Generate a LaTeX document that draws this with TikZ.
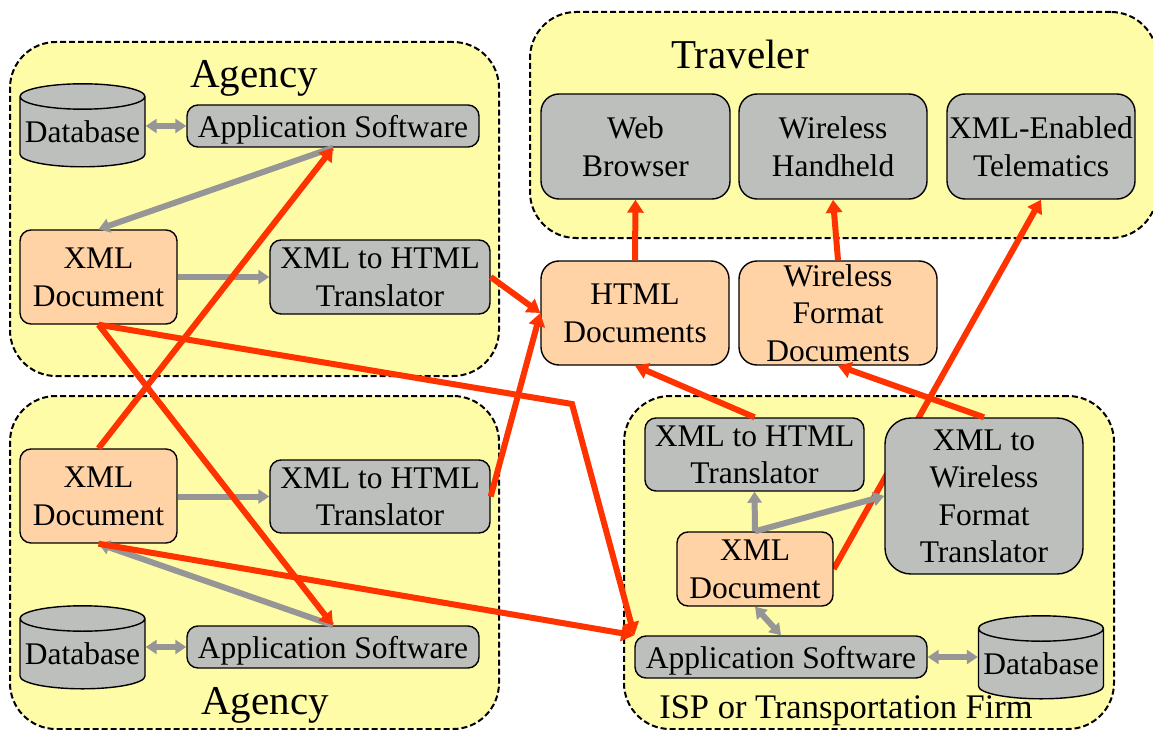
\documentclass[tikz,border=0pt]{standalone}
\usepackage{fontspec}
\setmainfont{Liberation Serif}
\usetikzlibrary{shapes.geometric,arrows.meta}
\definecolor{panelyellow}{HTML}{FFFCA8}
\definecolor{boxgray}{HTML}{BDBFBC}
\definecolor{docpeach}{HTML}{FFD3A6}
\definecolor{linkgray}{HTML}{969696}
\definecolor{linkred}{HTML}{FF3300}
\pgfdeclarelayer{panels}
\pgfdeclarelayer{under}
\pgfsetlayers{panels,under,main}
\begin{document}
\begin{tikzpicture}[
x=1pt,y=-1pt,
graytip/.tip={Triangle[length=11pt,width=14pt]},
redtip/.tip={Triangle[length=13pt,width=16pt]},
panel/.style={
  draw,
  dash pattern=on 6pt off 3pt,
  line width=2pt,
  fill=panelyellow,
  rounded corners=46pt
},
soft/.style={
  draw,
  line width=1.4pt,
  rounded corners=11pt,
  inner sep=0pt,
  align=center,
  text depth=-7pt,
  font=\fontsize{31.5}{37.5}\selectfont
},
tool/.style={soft,fill=boxgray},
doc/.style={soft,fill=docpeach},
roomy/.style={rounded corners=18pt,text depth=-8pt},
appbox/.style={
  tool,
  minimum width=292pt,
  minimum height=42pt,
  text depth=0pt
},
base/.style={
  draw,
  line width=1.4pt,
  cylinder,
  shape border rotate=90,
  aspect=0.22,
  fill=boxgray,
  inner sep=0pt,
  minimum width=125pt,
  minimum height=83pt,
  font=\fontsize{31.5}{37.5}\selectfont
},
title/.style={font=\fontsize{41}{46}\selectfont},
graylink/.style={draw=linkgray,fill=linkgray,line width=6pt,-graytip},
redlink/.style={draw=linkred,fill=linkred,line width=6pt,-redtip}
]
\useasboundingbox (0,0) rectangle (1153,730);

\begin{pgfonlayer}{panels}
\node[panel,minimum width=489pt,minimum height=334pt] at (254.5,209)
  (agency1) {};
\node[panel,minimum width=489pt,minimum height=333pt] at (254.5,562.5)
  (agency2) {};
\node[panel,minimum width=627pt,minimum height=226pt] at (843.5,125)
  (traveler) {};
\node[panel,minimum width=490pt,minimum height=333pt] at (869,562.5)
  (firm) {};
\end{pgfonlayer}

\node[title] at (254,78) (agency1label) {Agency};
\node[title] at (265,705) (agency2label) {Agency};
\node[title] at (740,54) (travelerlabel) {Traveler};
\node[font=\fontsize{34.5}{37.5}\selectfont] at (846,711) (firmlabel) {ISP or Transportation Firm};

\node[base] at (82.5,132)
  (db1) {Database};
\node[appbox] at (333,126)
  (app1) {Application Software};
\node[doc,minimum width=157pt,minimum height=94pt] at (98.5,277)
  (xml1) {XML\\Document};
\node[tool,minimum width=220pt,minimum height=74pt] at (380,277)
  (tr1) {XML to HTML\\Translator};

\node[doc,minimum width=157pt,minimum height=94pt] at (98.5,496)
  (xml2) {XML\\Document};
\node[tool,minimum width=220pt,minimum height=73pt] at (380,496.5)
  (tr2) {XML to HTML\\Translator};
\node[base] at (82.5,654)
  (db2) {Database};
\node[appbox] at (333,647)
  (app2) {Application Software};

\node[tool,roomy,minimum width=189pt,minimum height=105pt] at (635.5,146.5)
  (web) {Web\\Browser};
\node[tool,roomy,minimum width=188pt,minimum height=105pt] at (833,146.5)
  (handheld) {Wireless\\Handheld};
\node[tool,roomy,minimum width=188pt,minimum height=105pt] at (1041,146.5)
  (telematics) {XML-Enabled\\Telematics};
\node[doc,roomy,minimum width=188pt,minimum height=104pt] at (635,313)
  (html) {HTML\\Documents};
\node[doc,roomy,minimum width=198pt,minimum height=104pt] at (838,313)
  (wireless) {Wireless\\Format\\Documents};

\node[tool,minimum width=219pt,minimum height=73pt] at (754.5,454.5)
  (tr3) {XML to HTML\\Translator};
\node[tool,rounded corners=26pt,text depth=-3pt,minimum width=198pt,minimum height=156pt] at (984,496)
  (tr4) {XML to\\Wireless\\Format\\Translator};
\node[doc,text depth=-4pt,minimum width=156pt,minimum height=74pt] at (755,569)
  (xml3) {XML\\Document};
\node[appbox] at (781,657)
  (app3) {Application Software};
\node[base] at (1041,664)
  (db3) {Database};

\draw[graylink,graytip-graytip] (db1.east|-app1) -- (app1.west);
\draw[graylink] (app1.south) -- (xml1.north);
\draw[graylink] (xml1.east|-tr1) -- (tr1);
\draw[graylink] (xml2.east|-tr2) -- (tr2);
\draw[graylink,graytip-graytip] (db2.east|-app2) -- (app2.west);
\draw[graylink] (app2.north) -- (xml2.south);
\draw[graylink] (xml3.north) -- (tr3.south);
\draw[graylink] (xml3.north) -- (tr4.west);
\draw[graylink,graytip-graytip] (xml3.south) -- (app3.north);
\draw[graylink,graytip-graytip] (app3.east) -- (db3.west|-app3);

\coordinate (bend) at (572,404);
\draw[redlink] (tr1.east) -- (html.west);
\draw[redlink] (tr2.east) -- (html.west);
\draw[redlink] (xml2.north) -- (app1.south);
\draw[redlink] (xml1.south) -- (app2.north);
\draw[redlink,fill=none] (xml1.south) -- (bend) -- (app3.north west);
\draw[redlink] (xml2.south) -- (app3.north west);
\draw[redlink] (tr3.north) -- (html.south);
\draw[redlink] (tr4.north) -- (wireless.south);
\draw[redlink] (html.north) -- (web.south);
\draw[redlink] (wireless.north) -- (handheld.south);
\begin{pgfonlayer}{under}
\draw[redlink] (xml3.east) -- (telematics.south);
\end{pgfonlayer}
\end{tikzpicture}
\end{document}
